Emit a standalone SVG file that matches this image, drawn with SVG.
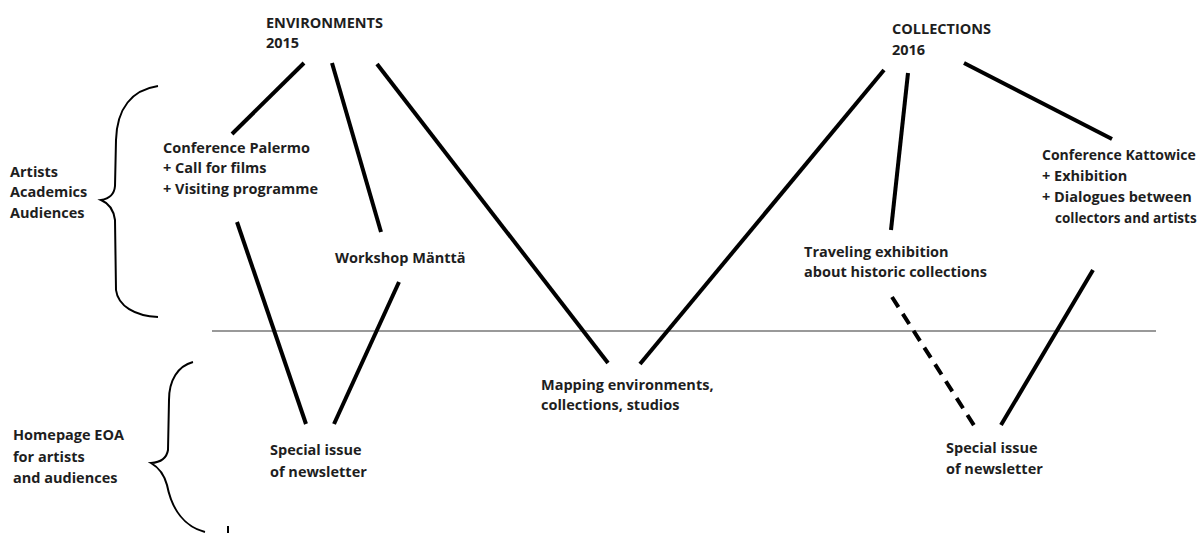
<svg xmlns="http://www.w3.org/2000/svg" width="1203" height="533" viewBox="0 0 1203 533">
<style>
text{font-family:"Open Sans","Liberation Sans",sans-serif;font-size:14.5px;font-weight:bold;fill:#1e1e1e}
.c{stroke:#000;stroke-width:4;fill:none;stroke-linecap:butt}
.d{stroke-dasharray:12,8}
.b{stroke:#000;stroke-width:2;fill:none}
</style>
<rect width="1203" height="533" fill="#fff"/>
<g id="divider"><line x1="212" y1="331" x2="1156" y2="331" stroke="#777" stroke-width="1.5"/></g>
<g id="connectors">
<line class="c" x1="304" y1="63" x2="232" y2="134"/>
<line class="c" x1="332" y1="63" x2="381" y2="232"/>
<line class="c" x1="377" y1="64" x2="608" y2="363"/>
<line class="c" x1="237" y1="222" x2="306" y2="424"/>
<line class="c" x1="399" y1="282" x2="334" y2="424"/>
<line class="c" x1="884" y1="70" x2="640" y2="364"/>
<line class="c" x1="908" y1="73" x2="891" y2="230"/>
<line class="c" x1="964" y1="63" x2="1112" y2="139"/>
<line class="c d" x1="892" y1="297" x2="977" y2="430"/>
<line class="c" x1="1093" y1="270" x2="1001" y2="425"/>
</g>
<g id="brace-top"><path class="b" d="M158,86 C132,90 117,108 116,140 L115,186 Q114,198 101,200 Q113,205 115,220 L116,290 C118,306 135,316 158,317"/></g>
<g id="brace-bottom"><path class="b" d="M193,362 C178,366 169,380 169,400 L168,450 Q166,462 151,463 Q163,470 167,485 C172,510 185,527 205,532"/><line class="b" x1="228" y1="526" x2="228" y2="533"/></g>
<g id="environments"><text x="266" y="28">ENVIRONMENTS</text><text x="266" y="48">2015</text></g>
<g id="collections"><text x="892" y="34">COLLECTIONS</text><text x="892" y="55">2016</text></g>
<g id="audiences-top"><text x="10" y="177">Artists</text><text x="10" y="197">Academics</text><text x="10" y="218">Audiences</text></g>
<g id="palermo"><text x="163" y="153">Conference Palermo</text><text x="163" y="173">+ Call for films</text><text x="163" y="194">+ Visiting programme</text></g>
<g id="workshop"><text x="335" y="263">Workshop Mänttä</text></g>
<g id="traveling"><text x="804" y="257">Traveling exhibition</text><text x="804" y="277">about historic collections</text></g>
<g id="kattowice"><text x="1042" y="160" style="font-size:14px">Conference Kattowice</text><text x="1042" y="181">+ Exhibition</text><text x="1042" y="202">+ Dialogues between</text><text x="1055" y="223" style="font-size:13.5px">collectors and artists</text></g>
<g id="mapping"><text x="541" y="390">Mapping environments,</text><text x="541" y="410">collections, studios</text></g>
<g id="homepage"><text x="13" y="440">Homepage EOA</text><text x="13" y="462">for artists</text><text x="13" y="483">and audiences</text></g>
<g id="special-left"><text x="270" y="455">Special issue</text><text x="270" y="477">of newsletter</text></g>
<g id="special-right"><text x="946" y="453">Special issue</text><text x="946" y="474">of newsletter</text></g>
</svg>
